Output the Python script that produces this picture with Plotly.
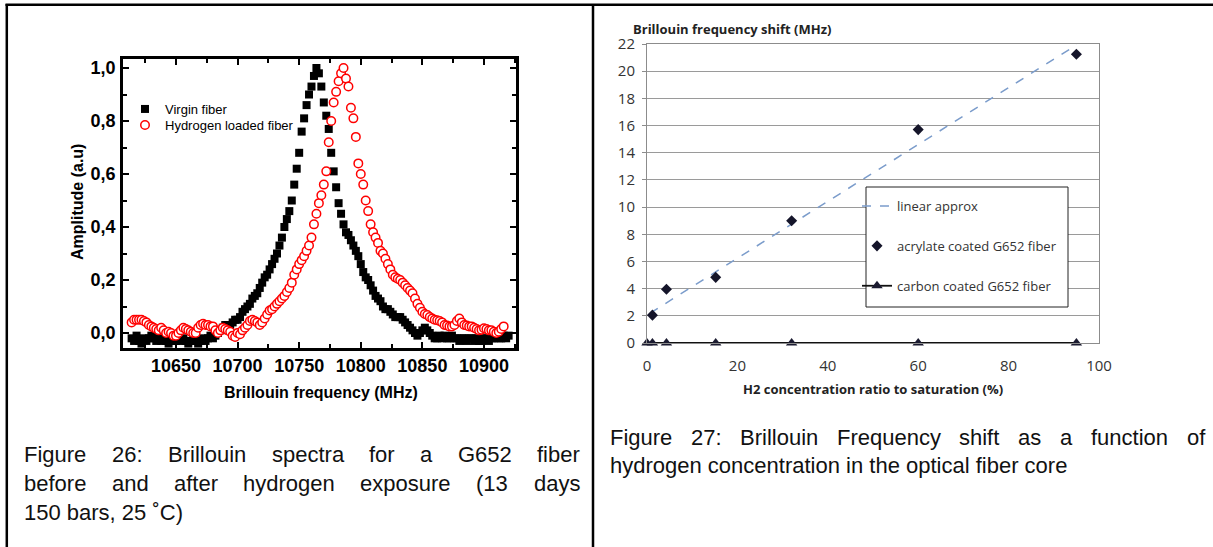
import plotly.graph_objects as go

W, H = 1213, 547


def px(x):
    return x / W


def py(y):
    return 1 - y / H


# ---------------- Figure 26 data (Brillouin spectra) ----------------
virgin_amp = [
    -0.02, -0.03, -0.01, -0.03, -0.04, -0.02, -0.03, -0.02, -0.01, -0.02,
    -0.03, -0.02, -0.03, -0.02, -0.03, -0.04, -0.03, -0.02, -0.03, -0.02,
    -0.03, -0.02, -0.03, -0.04, -0.03, -0.02, -0.03, -0.04, -0.03, -0.02,
    -0.03, -0.02, -0.01, -0.02, -0.01, 0.00, 0.01, 0.02, 0.03, 0.03,
    0.03, 0.04, 0.05, 0.05, 0.06, 0.08, 0.09, 0.10, 0.11, 0.13,
    0.14, 0.15, 0.17, 0.19, 0.21, 0.22, 0.24, 0.26, 0.28, 0.30,
    0.33, 0.36, 0.40, 0.43, 0.46, 0.50, 0.56, 0.62, 0.68, 0.76,
    0.81, 0.86, 0.90, 0.93, 0.97, 1.00, 0.98, 0.93, 0.87, 0.82,
    0.77, 0.68, 0.61, 0.55, 0.49, 0.45, 0.41, 0.38, 0.37, 0.35,
    0.33, 0.31, 0.29, 0.26, 0.23, 0.21, 0.20, 0.18, 0.16, 0.14,
    0.13, 0.12, 0.10, 0.09, 0.09, 0.08, 0.07, 0.06, 0.06, 0.06,
    0.05, 0.04, 0.03, 0.02, 0.01, 0.00, -0.01, 0.00, 0.01, 0.02,
    0.01, 0.00, -0.01, -0.02, -0.02, -0.01, -0.02, -0.01, -0.02, -0.02,
    -0.01, -0.02, -0.02, -0.03, -0.02, -0.02, -0.03, -0.02, -0.02, -0.03,
    -0.02, -0.03, -0.03, -0.02, -0.02, -0.03, -0.02, -0.02, -0.01, -0.02,
    -0.02, -0.01, -0.02, -0.01,
]
hydrogen_amp = [
    0.04, 0.05, 0.05, 0.05, 0.05, 0.045, 0.04, 0.03, 0.025, 0.02,
    0.015, 0.01, 0.02, 0.01, 0.00, 0.005, 0.00, -0.01, -0.01, 0.00,
    0.01, 0.02, 0.015, 0.01, 0.005, 0.00, 0.00, 0.02, 0.03, 0.035,
    0.03, 0.03, 0.025, 0.025, 0.01, 0.00, 0.01, 0.02, 0.015, 0.01,
    0.005, -0.01, -0.015, 0.00, -0.005, 0.01, 0.02, 0.03, 0.045, 0.05,
    0.045, 0.04, 0.03, 0.04, 0.055, 0.07, 0.085, 0.09, 0.10, 0.11,
    0.12, 0.13, 0.14, 0.155, 0.17, 0.19, 0.22, 0.24, 0.26, 0.275,
    0.29, 0.31, 0.33, 0.36, 0.41, 0.45, 0.49, 0.52, 0.56, 0.61,
    0.72, 0.80, 0.87, 0.91, 0.95, 0.98, 1.00, 0.96, 0.93, 0.85,
    0.81, 0.74, 0.64, 0.60, 0.56, 0.50, 0.46, 0.41, 0.38, 0.36,
    0.34, 0.31, 0.30, 0.28, 0.26, 0.24, 0.22, 0.21, 0.205, 0.20,
    0.19, 0.18, 0.17, 0.16, 0.15, 0.13, 0.11, 0.095, 0.08, 0.072,
    0.068, 0.06, 0.055, 0.05, 0.048, 0.045, 0.04, 0.03, 0.028, 0.025,
    0.025, 0.03, 0.045, 0.055, 0.04, 0.03, 0.028, 0.025, 0.025, 0.02,
    0.015, 0.01, 0.012, 0.018, 0.015, 0.01, 0.01, 0.005, 0.00, 0.005,
    0.015, 0.025,
]
# frequency sweep grid (MHz), 2 MHz sampling starting at 10614 MHz
virgin_freq = list(range(10614, 10614 + 2 * len(virgin_amp), 2))
hydrogen_freq = list(range(10614, 10614 + 2 * len(hydrogen_amp), 2))

spec_xticks = [10650, 10700, 10750, 10800, 10850, 10900]
spec_yticks = [0.0, 0.2, 0.4, 0.6, 0.8, 1.0]
spec_yticktext = ["0,0", "0,2", "0,4", "0,6", "0,8", "1,0"]

# ---------------- Figure 27 data (frequency shift vs H2) ----------------
h2_ratio = [1.2, 4.3, 15.2, 32.0, 60.0, 95.0]
acrylate_shift = [2.05, 3.95, 4.83, 9.0, 15.7, 21.25]
carbon_ratio = [0.0, 1.2, 4.3, 15.2, 32.0, 60.0, 95.0]
carbon_shift = [0, 0, 0, 0, 0, 0, 0]
linear_ratio = [0.7, 95.1]
linear_shift = [2.2, 21.95]

# ---------------- captions ----------------
cap26_lines = ["Figure 26: Brillouin spectra for a G652 fiber",
               "before and after hydrogen exposure (13 days",
               "150 bars, 25 ˚C)"]
cap27_lines = ["Figure 27: Brillouin Frequency shift as a function of",
               "hydrogen concentration in the optical fiber core"]

fig = go.Figure()

fig.add_trace(go.Scatter(
    x=virgin_freq, y=virgin_amp, mode="markers", name="Virgin fiber", showlegend=True,
    marker=dict(symbol="square", size=8, color="black", line=dict(width=0)),
    xaxis="x", yaxis="y", legend="legend",
))
fig.add_trace(go.Scatter(
    x=hydrogen_freq, y=hydrogen_amp, mode="markers", name="Hydrogen loaded fiber", showlegend=True,
    marker=dict(symbol="circle", size=8.5, color="white", line=dict(width=1.5, color="#ff0000")),
    xaxis="x", yaxis="y", legend="legend3",
))

fig.add_trace(go.Scatter(
    x=linear_ratio, y=linear_shift, mode="lines", name="linear approx", showlegend=True,
    line=dict(color="#7b9ccb", width=1.5, dash="dash"),
    xaxis="x2", yaxis="y2", legend="legend2", legendgroup="a",
))
fig.add_trace(go.Scatter(
    x=h2_ratio, y=acrylate_shift, mode="markers", name="acrylate coated G652 fiber", showlegend=True,
    marker=dict(symbol="diamond", size=8.5, color="#15152a"),
    xaxis="x2", yaxis="y2", legend="legend2", legendgroup="b",
))
fig.add_trace(go.Scatter(
    x=carbon_ratio, y=carbon_shift, mode="lines+markers", name="carbon coated G652 fiber",
    showlegend=True,
    line=dict(color="#111111", width=1.8),
    marker=dict(symbol="triangle-up", size=10, color="#1b1b30"),
    cliponaxis=False,
    xaxis="x2", yaxis="y2", legend="legend2", legendgroup="c",
))

bold_font = dict(family="Liberation Sans, Arial, sans-serif", size=18, color="black", weight="bold")
calib = "Open Sans, sans-serif"


def note(text, x, y, font, xanchor="center", yanchor="middle", **kw):
    return dict(text=text, x=px(x), y=py(y), xref="paper", yref="paper", showarrow=False,
                xanchor=xanchor, yanchor=yanchor, font=font, **kw)


annotations = [
    note("<b>Brillouin frequency (MHz)</b>", 321, 392,
         dict(family="Liberation Sans, Arial", size=16, color="black")),
    note("<b>Amplitude (a.u)</b>", 78, 202,
         dict(family="Liberation Sans, Arial", size=16, color="black"), textangle=-90),
    note("<b>Brillouin frequency shift (MHz)</b>", 631, 29,
         dict(family=calib, size=13, color="#222"), xanchor="left"),
    note("<b>H2 concentration ratio to saturation (%)</b>", 873, 389,
         dict(family=calib, size=13, color="#222")),
]

# approximate Arial / Liberation Sans advance widths (em), used to justify caption lines
ADV = {" ": .278, "(": .333, ")": .333, ",": .278, ".": .278, ":": .278, "˚": .333,
       "B": .667, "C": .722, "F": .611, "G": .778,
       "a": .556, "b": .556, "c": .5, "d": .556, "e": .556, "f": .278, "g": .556, "h": .556,
       "i": .222, "l": .222, "n": .556, "o": .556, "p": .556, "q": .556, "r": .333, "s": .5,
       "t": .278, "u": .556, "x": .5, "y": .5}


def text_w(s, size):
    return sum(ADV.get(ch, .556) for ch in s) * size


CAP_SIZE = 22
cap_font = dict(family="Liberation Sans, Arial, sans-serif", size=CAP_SIZE, color="#111")


def add_caption(lines, left, right, ys):
    for li, (line, yy) in enumerate(zip(lines, ys)):
        words = line.split(" ")
        if li == len(lines) - 1:
            annotations.append(note(line, left, yy, cap_font, xanchor="left"))
            continue
        widths = [text_w(w, CAP_SIZE) for w in words]
        gap = (right - left - sum(widths)) / (len(words) - 1)
        xpos = left
        for w, ww in zip(words, widths):
            annotations.append(note(w, xpos, yy, cap_font, xanchor="left"))
            xpos += ww + gap


add_caption(cap26_lines, 22, 578, [454, 483, 512])
add_caption(cap27_lines, 608, 1203, [437, 465])

shapes = [
    dict(type="line", xref="paper", yref="paper", x0=px(5.5), x1=1.0, y0=py(4.8), y1=py(4.8),
         line=dict(color="black", width=2.5)),
    dict(type="line", xref="paper", yref="paper", x0=px(6.8), x1=px(6.8), y0=py(4), y1=0,
         line=dict(color="black", width=2.5)),
    dict(type="line", xref="paper", yref="paper", x0=px(593), x1=px(593), y0=py(4), y1=0,
         line=dict(color="black", width=2.5)),
    # legend frame of figure 27
    dict(type="rect", xref="paper", yref="paper", x0=px(866), x1=px(1068), y0=py(307), y1=py(187),
         line=dict(color="#222", width=1), fillcolor="white", layer="above"),
]

fig.update_layout(
    width=W, height=H, margin=dict(l=0, r=0, t=0, b=0, autoexpand=False),
    paper_bgcolor="white", plot_bgcolor="white", showlegend=True,
    annotations=annotations, shapes=shapes,
    xaxis=dict(domain=[px(123), px(516)], range=[10607, 10926], tickvals=spec_xticks,
               tickformat="d",
               ticks="inside", ticklen=6, tickwidth=2, tickcolor="black",
               minor=dict(dtick=25, tick0=10600, ticks="inside", ticklen=4, tickwidth=2, tickcolor="black"),
               showline=True, linewidth=2.7, linecolor="black", mirror="ticks",
               showgrid=False, zeroline=False, tickfont=bold_font, ticklabelstandoff=0,
               anchor="y"),
    yaxis=dict(domain=[py(348), py(59)], range=[-0.0566, 1.034], tickvals=spec_yticks,
               ticktext=spec_yticktext, ticks="inside", ticklen=6, tickwidth=2, tickcolor="black",
               minor=dict(dtick=0.1, tick0=0, ticks="inside", ticklen=4, tickwidth=2, tickcolor="black"),
               showline=True, linewidth=2.7, linecolor="black", mirror="ticks",
               showgrid=False, zeroline=False, tickfont=bold_font, ticklabelstandoff=1,
               anchor="x"),
    xaxis2=dict(domain=[px(647), px(1099)], range=[0, 100], dtick=20, ticks="",
                showline=True, linewidth=1, linecolor="#8c8c8c", mirror=True,
                showgrid=False, zeroline=False,
                tickfont=dict(family=calib, size=15, color="#333"), ticklabelstandoff=9,
                anchor="y2"),
    yaxis2=dict(domain=[py(343), py(44)], range=[0, 22], dtick=2, ticks="outside", ticklen=4,
                tickcolor="#8c8c8c", showline=True, linewidth=1, linecolor="#8c8c8c", mirror=True,
                showgrid=True, gridcolor="#9a9a9a", gridwidth=1, zeroline=False,
                tickfont=dict(family=calib, size=15, color="#333"), ticklabelstandoff=4,
                anchor="x2"),
    legend=dict(x=px(125), y=py(94), xanchor="left", yanchor="top", bgcolor="rgba(0,0,0,0)",
                borderwidth=0, font=dict(family="Liberation Sans, Arial", size=13, color="black"),
                itemwidth=30, visible=True),
    legend3=dict(x=px(125), y=py(110), xanchor="left", yanchor="top", bgcolor="rgba(0,0,0,0)",
                 borderwidth=0, font=dict(family="Liberation Sans, Arial", size=13, color="black"),
                 itemwidth=30, visible=True),
    legend2=dict(x=px(857), y=py(191), xanchor="left", yanchor="top", bgcolor="rgba(0,0,0,0)",
                 borderwidth=0, font=dict(family=calib, size=13, color="#333"),
                 itemwidth=30, tracegroupgap=20, visible=True),
)

fig.write_html("out.html",
               post_script="document.body.style.margin='0';document.body.style.overflow='hidden';")
